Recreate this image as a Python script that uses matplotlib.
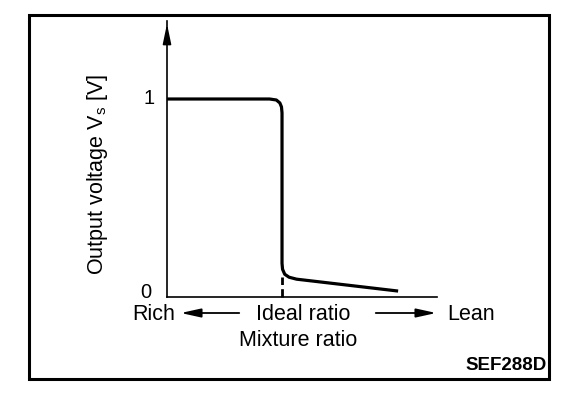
import matplotlib
matplotlib.use("Agg")
import matplotlib.pyplot as plt
from matplotlib.patches import Rectangle, FancyArrowPatch
from matplotlib.transforms import ScaledTranslation

plt.rcParams['font.family'] = ['Liberation Sans', 'DejaVu Sans']

# Data (mixture ratio normalized 0..1, output voltage in V)
curve_x = [0.0, 0.38, 0.405, 0.418, 0.424, 0.426, 0.426, 0.428, 0.436, 0.452, 0.48, 0.856]
curve_y = [1.0, 1.0, 0.995, 0.98, 0.96, 0.93, 0.17, 0.14, 0.115, 0.10, 0.09, 0.03]
ideal_x = 0.426
ideal_marker_y = [0.0, 0.1]
y_ticks = [0, 1]
y_tick_labels = ["0", "1"]

W, H = 576, 394
fig = plt.figure(figsize=(W / 100, H / 100), dpi=100)

def fx(px):
    return px / W

def fy(py):
    return 1 - py / H

FS = 15.5

# Outer frame
fig.patches.append(Rectangle((fx(29), fy(379)), fx(549) - fx(29), fy(15) - fy(379),
                             transform=fig.transFigure, fill=False, lw=2.2, ec='black'))

# Axes: x from 167 to 437 px, y bottom 297 px, top 21 px
ax = fig.add_axes([fx(167), fy(297), fx(437) - fx(167), fy(21) - fy(297)])
ax.set_xlim(0, 1)
ax.set_ylim(0, (297 - 21) / 198)
for s in ['top', 'right']:
    ax.spines[s].set_visible(False)
ax.spines['left'].set_linewidth(1.2)
ax.spines['bottom'].set_linewidth(1.2)
ax.set_xticks([])
ax.set_yticks(y_ticks)
ax.set_yticklabels(y_tick_labels, fontsize=14.5)
ax.tick_params(axis='y', length=0, pad=9)
ax.patch.set_alpha(0)
# nudge the "0" label up and left as in the reference
lab0 = ax.get_yticklabels()[0]
lab0.set_transform(lab0.get_transform() + ScaledTranslation(-0.03, 0.07, fig.dpi_scale_trans))
lab1 = ax.get_yticklabels()[1]
lab1.set_transform(lab1.get_transform() + ScaledTranslation(0.0, 0.03, fig.dpi_scale_trans))

# arrow on y axis
ax.annotate('', xy=(0, (297 - 21) / 198), xytext=(0, (297 - 40) / 198),
            xycoords='data', textcoords='data',
            arrowprops=dict(arrowstyle='-|>,head_length=1.2,head_width=0.25', color='black', lw=1.2),
            annotation_clip=False)

ax.plot(curve_x, curve_y, color='black', lw=2.3, solid_joinstyle='round', solid_capstyle='butt',
        clip_on=False)
ax.plot([ideal_x, ideal_x], ideal_marker_y, color='black', lw=2.0, linestyle=(0, (3, 1.5)),
        clip_on=False)

# y label
fig.text(fx(97), fy(174), r"Output voltage V$_\mathregular{s}$ [V]", rotation=90,
         ha='center', va='center', fontsize=FS)

# x row
fig.text(fx(132), fy(315), "Rich", ha='left', va='center', fontsize=FS)
fig.text(fx(303), fy(315), "Ideal ratio", ha='center', va='center', fontsize=FS)
fig.text(fx(447), fy(315), "Lean", ha='left', va='center', fontsize=FS)
arrow_kw = dict(arrowstyle='-|>,head_length=1.0,head_width=0.22', color='black', lw=1.3)
fig.add_artist(FancyArrowPatch((fx(242), fy(313)), (fx(178), fy(313)),
               transform=fig.transFigure, mutation_scale=12, **arrow_kw))
fig.add_artist(FancyArrowPatch((fx(373), fy(313)), (fx(439), fy(313)),
               transform=fig.transFigure, mutation_scale=12, **arrow_kw))

fig.text(fx(298), fy(340), "Mixture ratio", ha='center', va='center', fontsize=FS)
fig.text(fx(547), fy(365), "SEF288D", ha='right', va='center', fontsize=13.5, fontweight='bold')

fig.savefig("out.png", dpi=100)
